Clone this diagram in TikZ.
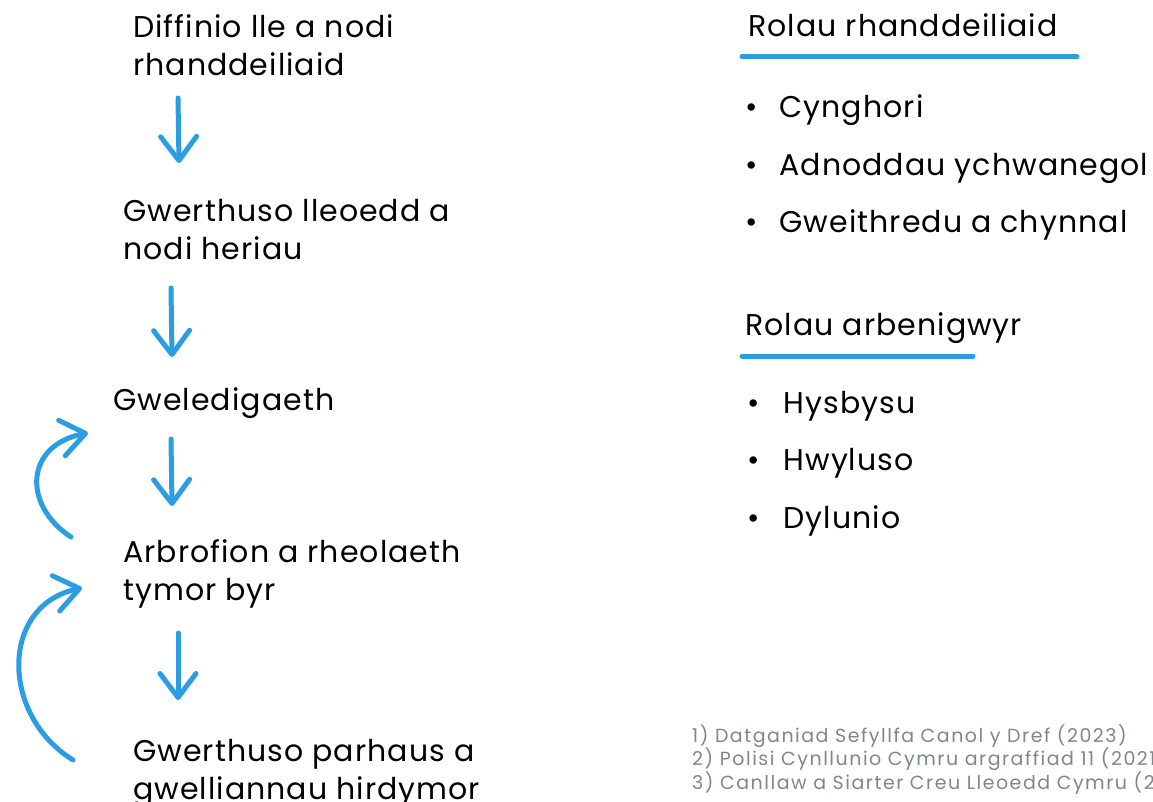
\documentclass[tikz,border=0pt]{standalone}
\usepackage{fontspec}
\setmainfont{Poppins}[LetterSpace = 3.5]
\usetikzlibrary{arrows.meta, positioning}

\definecolor{flowblue}{RGB}{43,157,227}
\definecolor{notegray}{RGB}{128,134,142}

\begin{document}
\begin{tikzpicture}[
        x = 1pt, y = -1pt,
        >= {Straight Barb[round, length = 24pt, width = 36pt]},
        flow/.style = {->, draw = flowblue, line width = 5pt, line cap = round},
        stage/.style = {anchor = base west, inner sep = 0pt, align = left, font = \fontsize{30}{38}\selectfont},
        heading/.style = {anchor = base west, inner sep = 0pt, font = \fontsize{30}{38}\selectfont},
        item/.style = {anchor = base west, inner sep = 0pt, font = \fontsize{30}{38}\selectfont},
        rule/.style = {draw = flowblue, line width = 5pt, line cap = round}
    ]
      \useasboundingbox (0,0) rectangle (1153,802);
      \clip (0,0) rectangle (1153,802);

      % stages down the left side (anchored on the last line)
      \node[stage] (define) at (133,76)  {Diffinio lle a nodi\\rhanddeiliaid};
      \node[stage] (assess) at (123,260) {Gwerthuso lleoedd a\\nodi heriau};
      \node[stage] (vision) at (113,410) {Gweledigaeth};
      \node[stage] (trial)  at (123,600) {Arbrofion a rheolaeth\\tymor byr};
      \node[stage] (review) at (133,799) {Gwerthuso parhaus a\\gwelliannau hirdymor};

      \coordinate (d1) at (178,98);  \coordinate (d1e) at (179,163);
      \coordinate (d2) at (171,288); \coordinate (d2e) at (172,357);
      \coordinate (d3) at (171,439); \coordinate (d3e) at (172,506);
      \coordinate (d4) at (178,633); \coordinate (d4e) at (178,700);
      \draw[flow] (d1) -- (d1e);
      \draw[flow] (d2) -- (d2e);
      \draw[flow] (d3) -- (d3e);
      \draw[flow] (d4) -- (d4e);

      % feedback loops
      \coordinate (b1) at (71,537);  \coordinate (b1e) at (88,433);
      \coordinate (b2) at (73,760);  \coordinate (b2e) at (82,588);
      \draw[flow] (b1) .. controls (22,505) and (25,445) .. (b1e);
      \draw[flow] (b2) .. controls (0,715) and (0,605) .. (b2e);

      % roles
      \node[heading] (stake) at (748,37) {Rolau rhanddeiliaid};
      \draw[rule] (742,57) -- (1077,57);
      \node[item] (s1) at (745,118) {•\hspace{22pt}Cynghori};
      \node[item] (s2) at (745,176) {•\hspace{22pt}Adnoddau ychwanegol};
      \node[item] (s3) at (745,233) {•\hspace{22pt}Gweithredu a chynnal};

      \node[heading] (expert) at (745,335) {Rolau arbenigwyr};
      \draw[rule] (742,356) -- (973,356);
      \node[item] (e1) at (747,413) {•\hspace{24pt}Hysbysu};
      \node[item] (e2) at (747,470) {•\hspace{24pt}Hwyluso};
      \node[item] (e3) at (747,528) {•\hspace{24pt}Dylunio};

      % sources
      \node[anchor = base west, inner sep = 0pt, align = left, text = notegray,
            font = \fontsize{19}{23.5}\selectfont\addfontfeature{LetterSpace = 8}] (notes) at (692,789)
            {1) Datganiad Sefyllfa Canol y Dref (2023)\\
             2) Polisi Cynllunio Cymru argraffiad 11 (2021)\\
             3) Canllaw a Siarter Creu Lleoedd Cymru (2020)};
\end{tikzpicture}
\end{document}
